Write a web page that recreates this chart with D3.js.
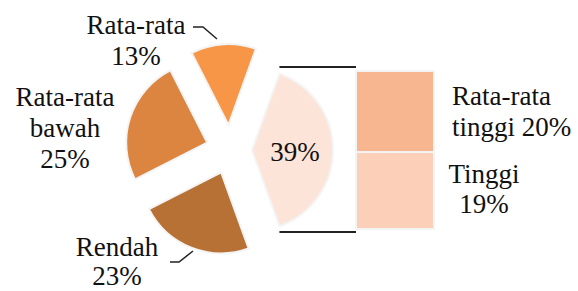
<!DOCTYPE html>
<html>
<head>
<meta charset="utf-8">
<script src="https://cdn.jsdelivr.net/npm/d3@7"></script>
<style>
  body { margin: 0; background: #fff; }
  text { font-family: "Liberation Serif", serif; font-size: 27px; fill: #111; }
</style>
</head>
<body>
<div id="container1"></div>
<script>
// pie slices (clockwise after the combined slice)
const pieCats = ["Rendah", "Rata-rata bawah", "Rata-rata"];
const pieVals = [23, 25, 13];
// the bar on the right (bottom to top)
const barCats = ["Tinggi", "Rata-rata tinggi"];
const barVals = [19, 20];

const w = 578;
const h = 291;
const cx = 230, cy = 150, r = 81;

const other = d3.sum(barVals);
const colors = {
    "Lainnya": "#FCE4D8",
    "Rendah": "#B87135",
    "Rata-rata bawah": "#DB8540",
    "Rata-rata": "#F79646",
    "Tinggi": "#FBCFB8",
    "Rata-rata tinggi": "#F8B690"
};
const explode = { "Lainnya": 22, "Rendah": 24, "Rata-rata bawah": 24, "Rata-rata": 25 };

const pieData = [{ name: "Lainnya", value: other }]
    .concat(pieCats.map((c, i) => ({ name: c, value: pieVals[i] })));

const total = d3.sum(pieData, d => d.value);
const otherAngle = other / total * 2 * Math.PI;
const start = Math.PI / 2 - otherAngle / 2;

const pie = d3.pie()
    .sort(null)
    .value(d => d.value)
    .startAngle(start)
    .endAngle(start + 2 * Math.PI);

const arc = d3.arc().innerRadius(0).outerRadius(r);

const svg = d3.select("#container1")
    .append("svg")
    .attr("width", w)
    .attr("height", h);

const g = svg.append("g").attr("transform", `translate(${cx},${cy})`);

g.selectAll("path")
    .data(pie(pieData))
    .enter()
    .append("path")
    .attr("transform", d => {
        const a = (d.startAngle + d.endAngle) / 2;
        const e = explode[d.data.name];
        return `translate(${e * Math.sin(a)},${-e * Math.cos(a)})`;
    })
    .attr("d", arc)
    .attr("fill", d => colors[d.data.name])
    .attr("stroke", "#f4f4f4")
    .attr("stroke-width", 2);

// bar
const yScale = d3.scaleLinear()
    .domain([0, other])
    .range([229, 71]);

const xScale = d3.scaleBand()
    .domain(["bar"])
    .range([356, 434]);

const stacked = [];
let acc = 0;
barCats.forEach((c, i) => {
    stacked.push({ name: c, y0: acc, y1: acc + barVals[i] });
    acc += barVals[i];
});

svg.selectAll("rect")
    .data(stacked)
    .enter()
    .append("rect")
    .attr("x", xScale("bar"))
    .attr("y", d => yScale(d.y1))
    .attr("width", xScale.bandwidth())
    .attr("height", d => yScale(d.y0) - yScale(d.y1))
    .attr("fill", d => colors[d.name])
    .attr("stroke", "#f4f4f4")
    .attr("stroke-width", 2);

// connector lines
const ox = cx + explode["Lainnya"] + r * Math.sin(start);
[yScale(other) - 4, yScale(0) + 3].forEach(y => {
    svg.append("line")
        .attr("x1", ox).attr("x2", xScale("bar"))
        .attr("y1", y).attr("y2", y)
        .attr("stroke", "#222")
        .attr("stroke-width", 2);
});

// labels
const labels = [
    { lines: ["Rata-rata", pieVals[2] + "%"], x: 136, y: 34, lh: 31, anchor: "middle" },
    { lines: ["Rata-rata", "bawah", pieVals[1] + "%"], x: 65, y: 106, lh: 31, anchor: "middle" },
    { lines: ["Rendah", pieVals[0] + "%"], x: 117, y: 256, lh: 29, anchor: "middle" },
    { lines: [other + "%"], x: 295, y: 161, lh: 31, anchor: "middle" },
    { lines: ["Rata-rata", "tinggi " + barVals[1] + "%"], x: 452, y: 105, lh: 31, anchor: "start" },
    { lines: ["Tinggi", barVals[0] + "%"], x: 484, y: 183, lh: 30, anchor: "middle" }
];

labels.forEach(l => {
    const t = svg.append("text")
        .attr("text-anchor", l.anchor);
    l.lines.forEach((s, i) => {
        t.append("tspan")
            .attr("x", l.x)
            .attr("y", l.y + i * l.lh)
            .text(s);
    });
});

// leader lines
const leader = d3.line();
svg.append("path")
    .attr("d", leader([[193, 27], [203, 27], [217, 39]]))
    .attr("fill", "none").attr("stroke", "#222").attr("stroke-width", 1.5);
svg.append("path")
    .attr("d", leader([[170, 262], [179, 262], [193, 251]]))
    .attr("fill", "none").attr("stroke", "#222").attr("stroke-width", 1.5);
</script>
</body>
</html>
